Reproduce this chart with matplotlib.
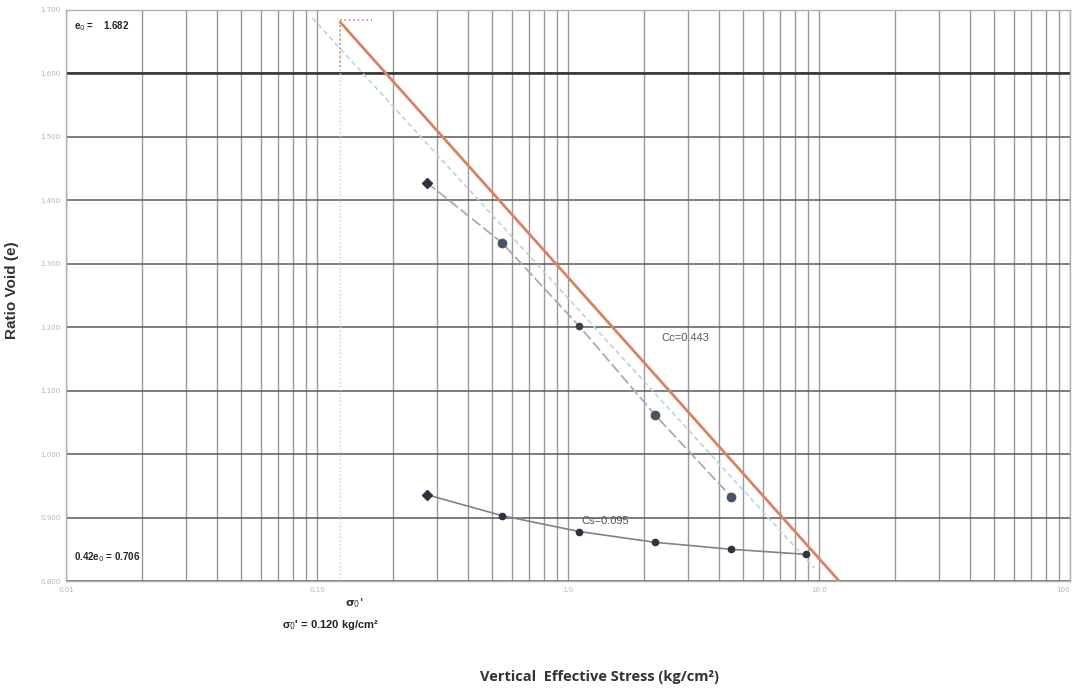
import numpy as np
import matplotlib.pyplot as plt
from matplotlib.ticker import FixedLocator, NullFormatter, LogLocator

# Data
load_stress = [0.274, 0.546, 1.107, 2.22, 4.46]           # kg/cm2
load_void = [1.428, 1.333, 1.202, 1.062, 0.933]

unload_stress = [0.274, 0.546, 1.107, 2.22, 4.46, 8.87]
unload_void = [0.936, 0.903, 0.878, 0.861, 0.850, 0.842]

# Cc line (starts at sigma0', e0 and runs to 0.42 e0)
cc_stress = [0.123, 19.6]
cc_void = [1.682, 0.706]

# faint construction line
aux_stress = [0.096, 9.6]
aux_void = [1.687, 0.820]

e0 = 1.682
sigma0 = 0.123

y_ticks = [0.8, 0.9, 1.0, 1.1, 1.2, 1.3, 1.4, 1.5, 1.6, 1.7]
y_labels = ['0.800', '0.900', '1.000', '1.100', '1.200', '1.300',
            '1.400', '1.500', '1.600', '1.700']
x_ticks = [0.01, 0.1, 1, 10, 100]
x_labels = ['0.01', '0.10', '1.0', '10.0', '100']

fig = plt.figure(figsize=(10.74, 6.90), dpi=100)
ax = fig.add_axes([66 / 1074, 1 - 581 / 690, 1004 / 1074, 571 / 690])
ax.set_xscale('log')
ax.set_xlim(0.01, 100)
ax.set_ylim(0.8, 1.7)

# grid: every log minor line plus horizontal lines
ax.xaxis.set_major_locator(FixedLocator(x_ticks))
ax.xaxis.set_minor_locator(LogLocator(base=10, subs=np.arange(2, 10)))
ax.xaxis.set_minor_formatter(NullFormatter())
ax.set_xticklabels(x_labels)
ax.get_xticklabels()[-1].set_ha('right')
ax.set_yticks(y_ticks)
ax.set_yticklabels(y_labels)
ax.grid(True, which='both', axis='x', color='#999999', lw=1.0)
ax.grid(True, which='major', axis='y', color='#5a5a5a', lw=1.1)
ax.axhline(1.6, color='#333333', lw=1.8)
ax.set_axisbelow(True)
ax.tick_params(which='both', length=0, labelsize=5, colors='#b5b5b5', pad=4)
for s in ax.spines.values():
    s.set_color('#b0b0b0')
    s.set_linewidth(1.0)

# construction lines
ax.plot(aux_stress, aux_void, color='#b9d3df', lw=1.2, ls=(0, (3, 2)))
ax.plot([sigma0, sigma0], [e0, 0.8], color='#d9c6c2', lw=1.0, ls=':')
ax.plot([sigma0, sigma0], [e0, 1.61], color='#d08a70', lw=1.2, ls=':')
ax.plot([sigma0, 0.165], [e0 + 0.002, e0 + 0.002], color='#d08a70', lw=1.2, ls=':')

# Cc line
ax.plot(cc_stress, cc_void, color='#d9825f', lw=2.0, solid_capstyle='butt')

# loading branch
ax.plot(load_stress, load_void, color='#a6adb5', lw=1.3, ls=(0, (6, 2)))
ax.plot(load_stress[0], load_void[0], marker='D', ms=5, color='#2e3340', ls='none')
big = [1, 3, 4]
ax.plot([load_stress[i] for i in big], [load_void[i] for i in big],
        marker='o', ms=6, color='#4a5266', ls='none')
ax.plot(load_stress[2], load_void[2], marker='o', ms=4.5, color='#3a3f4a', ls='none')

# unloading branch
ax.plot(unload_stress, unload_void, color='#7d838c', lw=1.2)
ax.plot(unload_stress[0], unload_void[0], marker='D', ms=5, color='#2e3340', ls='none')
ax.plot(unload_stress[1:], unload_void[1:], marker='o', ms=4.5, color='#2e3340', ls='none')

# annotations
ax.text(0.0108, 1.675, 'e$_0$ =    1.682', fontsize=7, fontweight='bold',
        family='Liberation Sans', color='#222222', va='center')
ax.text(0.0108, 0.838, '0.42e$_0$ = 0.706', fontsize=7, fontweight='bold',
        family='Liberation Sans', color='#222222', va='center')
ax.text(2.35, 1.183, 'Cc=0.443', fontsize=8, family='Liberation Sans',
        color='#555555', va='center')
ax.text(1.13, 0.895, 'Cs=0.095', fontsize=8, family='Liberation Sans',
        color='#555555', va='center')

fig.text(345 / 1074, 1 - 603 / 690, "σ$_0$'", fontsize=8, fontweight='bold',
         family='DejaVu Sans', color='#333333', va='center')
fig.text(282 / 1074, 1 - 625 / 690, "σ$_0$' = 0.120 kg/cm²", fontsize=8,
         fontweight='bold', family='Liberation Sans', color='#222222', va='center')

fig.text(12 / 1074, 1 - 290 / 690, 'Ratio Void (e)', rotation=90, fontsize=11,
         fontweight='bold', family='Liberation Sans', color='#333333',
         ha='center', va='center')
fig.text(600 / 1074, 1 - 677 / 690, 'Vertical  Effective Stress (kg/cm²)',
         fontsize=10.5, fontweight='bold', family='Open Sans', color='#333333',
         ha='center', va='center')

fig.savefig('out.png', dpi=100)
